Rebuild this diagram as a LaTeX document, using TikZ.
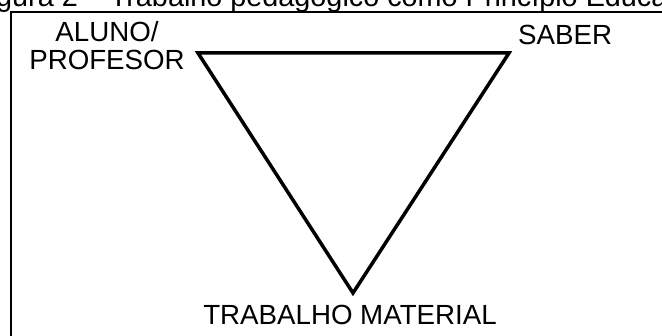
\documentclass[tikz,border=0pt]{standalone}
\usepackage{fontspec}
\setmainfont{Liberation Sans}

\tikzset{
  lbl/.style={inner sep=0pt, font=\fontsize{27.7}{28}\selectfont},
  side/.style={line width=3.5pt, line join=miter}
}

\begin{document}
\begin{tikzpicture}[x=1pt,y=-1pt]

\useasboundingbox (0,0) rectangle (662,336);
\clip (0,0) rectangle (662,336);

% caption (cut off at the top)
\node[lbl, font=\fontsize{28.8}{30}\selectfont, anchor=base west] (caption) at (-28,7) {Figura 2 – Trabalho pedagógico como Princípio Educativo};

% frame
\draw[line width=1.5pt] (11,12) rectangle (700,400);

% corners of the triangle
\coordinate (aluno) at (198,53);
\coordinate (saber) at (509,53);
\coordinate (trabalho) at (353,293);

\draw[side] (aluno) -- (saber) -- (trabalho) -- cycle;

% labels
\node[lbl, align=center, anchor=base] (alunoTxt) at (107,70) {ALUNO/\\PROFESOR};
\node[lbl, anchor=base west] (saberTxt) at (518,45) {SABER};
\node[lbl, anchor=base] (trabalhoTxt) at (350,325) {TRABALHO MATERIAL};

\end{tikzpicture}
\end{document}
